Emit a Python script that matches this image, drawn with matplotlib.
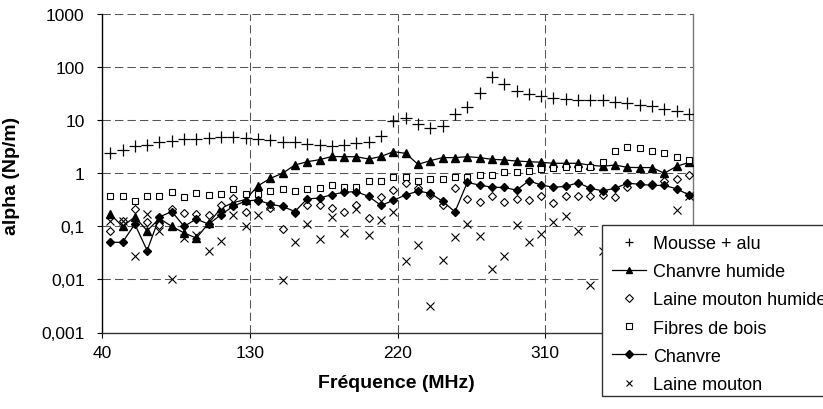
import matplotlib
matplotlib.use("Agg")
import matplotlib.pyplot as plt
from matplotlib.patches import Rectangle

plt.rcParams['font.family'] = ['Liberation Sans', 'DejaVu Sans']

# Frequencies (MHz); last point lies just beyond the axis end (line stubs)
freq = [45.0, 52.5, 60.0, 67.5, 75.0, 82.5, 90.0, 97.5, 105.0, 112.5,
        120.0, 127.5, 135.0, 142.5, 150.0, 157.5, 165.0, 172.5, 180.0, 187.5,
        195.0, 202.5, 210.0, 217.5, 225.0, 232.5, 240.0, 247.5, 255.0, 262.5,
        270.0, 277.5, 285.0, 292.5, 300.0, 307.5, 315.0, 322.5, 330.0, 337.5,
        345.0, 352.5, 360.0, 367.5, 375.0, 382.5, 390.0, 397.5, 405.0]

mousse_alu = [2.45, 2.8, 3.2, 3.45, 3.8, 4.0, 4.4, 4.4, 4.6, 4.8,
              4.9, 4.65, 4.5, 4.2, 3.95, 3.8, 3.5, 3.4, 3.3, 3.4,
              3.65, 3.95, 5.1, 9.6, 11.2, 8.3, 7.2, 7.8, 13.0, 18.0,
              32.0, 65.0, 48.0, 36.0, 31.0, 28.0, 26.5, 25.5, 24.5, 24.3,
              23.7, 22.0, 21.0, 19.2, 18.2, 16.5, 15.0, 13.3, 12.5]

chanvre_humide = [0.17, 0.10, 0.15, 0.083, 0.14, 0.10, 0.075, 0.06, 0.115, 0.22,
                  0.28, 0.32, 0.58, 0.80, 1.0, 1.43, 1.65, 1.8, 2.07, 2.05,
                  2.05, 1.85, 2.07, 2.55, 2.37, 1.47, 1.73, 1.97, 1.97, 2.05,
                  1.97, 1.83, 1.78, 1.70, 1.65, 1.61, 1.54, 1.54, 1.54, 1.42,
                  1.35, 1.43, 1.29, 1.28, 1.28, 1.0, 1.35, 1.6, 2.1]

laine_mouton_humide = [0.081, 0.125, 0.21, 0.12, 0.107, 0.21, 0.18, 0.17, 0.165, 0.255,
                       0.34, 0.19, 0.30, 0.22, 0.088, 0.18, 0.25, 0.25, 0.225, 0.186,
                       0.25, 0.145, 0.35, 0.49, 0.65, 0.53, 0.39, 0.25, 0.53, 0.33,
                       0.29, 0.37, 0.285, 0.33, 0.315, 0.376, 0.27, 0.376, 0.376, 0.365,
                       0.385, 0.355, 0.56, 0.62, 0.62, 0.71, 0.79, 0.92, 1.0]

fibres_bois = [0.365, 0.365, 0.30, 0.38, 0.365, 0.45, 0.35, 0.43, 0.385, 0.40,
               0.495, 0.40, 0.415, 0.47, 0.495, 0.47, 0.50, 0.52, 0.595, 0.54,
               0.54, 0.70, 0.70, 0.84, 0.84, 0.70, 0.775, 0.775, 0.835, 0.855,
               0.93, 0.93, 1.07, 1.07, 1.12, 1.2, 1.24, 1.3, 1.26, 1.3,
               1.6, 2.64, 3.16, 3.03, 2.63, 2.37, 2.05, 1.78, 1.6]

chanvre = [0.05, 0.05, 0.11, 0.035, 0.15, 0.19, 0.10, 0.137, 0.11, 0.166,
           0.24, 0.30, 0.313, 0.26, 0.237, 0.19, 0.33, 0.34, 0.395, 0.44,
           0.45, 0.365, 0.247, 0.31, 0.39, 0.46, 0.42, 0.295, 0.188, 0.67,
           0.60, 0.545, 0.54, 0.48, 0.72, 0.60, 0.545, 0.565, 0.665, 0.52,
           0.466, 0.52, 0.65, 0.62, 0.59, 0.59, 0.51, 0.39, 0.27]

laine_mouton = [0.124, 0.126, 0.028, 0.17, 0.08, 0.0102, 0.06, 0.069, 0.035, 0.052,
                0.163, 0.10, 0.163, 0.24, 0.0096, 0.05, 0.113, 0.058, 0.147, 0.075,
                0.215, 0.069, 0.129, 0.188, 0.022, 0.044, 0.0032, 0.023, 0.062, 0.11,
                0.065, 0.0157, 0.028, 0.104, 0.051, 0.071, 0.122, 0.156, 0.082, 0.0077,
                0.035, 0.05, 0.02, 0.06, 0.03, 0.08, 0.205, 0.37, 0.3]

series_names = ["Mousse + alu", "Chanvre humide", "Laine mouton humide",
                "Fibres de bois", "Chanvre", "Laine mouton"]

x_ticks = [40, 130, 220, 310, 400]
x_ticklabels = ["40", "130", "220", "310", ""]   # 400 is hidden under the legend
y_ticks = [0.001, 0.01, 0.1, 1, 10, 100, 1000]
y_ticklabels = ["0,001", "0,01", "0,1", "1", "10", "100", "1000"]

W, H = 823, 410
fig = plt.figure(figsize=(W / 100, H / 100), dpi=100)
L, R, T, B = 102, 693, 15, 333.5
ax = fig.add_axes([L / W, 1 - B / H, (R - L) / W, (B - T) / H])

styles = [
    dict(ls='none', marker='+', ms=8, mew=0.9, color='black'),
    dict(ls='-', lw=0.9, marker='^', ms=6, color='black'),
    dict(ls='none', marker='D', ms=4.5, mew=0.8, mfc='white', mec='black'),
    dict(ls='none', marker='s', ms=5, mew=0.8, mfc='white', mec='black'),
    dict(ls='-', lw=0.9, marker='D', ms=4.5, color='black'),
    dict(ls='none', marker='x', ms=5.5, mew=0.8, color='black'),
]
data = [mousse_alu, chanvre_humide, laine_mouton_humide, fibres_bois, chanvre, laine_mouton]

handles = []
for name, vals, st in zip(series_names, data, styles):
    h, = ax.plot(freq, vals, label=name, zorder=3, **st)
    handles.append(h)

ax.set_yscale('log')
ax.set_xlim(40, 400)
ax.set_ylim(0.001, 1000)
ax.set_yticks(y_ticks)
ax.set_yticklabels(y_ticklabels)
ax.yaxis.set_minor_locator(matplotlib.ticker.NullLocator())
ax.set_xticks(x_ticks)
ax.set_xticklabels(x_ticklabels)

ax.grid(True, which='major', color='#555555', linestyle=(0, (8, 4)), linewidth=0.75, zorder=1)
ax.set_axisbelow(True)

ax.spines['top'].set_visible(False)
ax.spines['left'].set_color('black')
ax.spines['left'].set_linewidth(1.0)
ax.spines['bottom'].set_color('#333333')
ax.spines['bottom'].set_linewidth(1.0)
ax.spines['right'].set_color('#777777')
ax.spines['right'].set_linewidth(1.0)

ax.tick_params(axis='both', which='major', direction='out', length=3.5, width=0.8,
               labelsize=12.5, color='black')
ax.tick_params(axis='y', pad=9)
ax.tick_params(axis='x', pad=5.5)

fig.text(12 / W, 1 - 176 / H, 'alpha (Np/m)', rotation=90, ha='center', va='center',
         fontsize=14, fontweight='bold')
fig.text(396 / W, 1 - 384 / H, 'Fréquence (MHz)', ha='center', va='center',
         fontsize=14, fontweight='bold')

# Legend box (white, overlapping the plot and running off the right edge)
box_l, box_t, box_b = 602, 226, 397
legend_box = Rectangle((box_l / W, 1 - box_b / H), (835 - box_l) / W, (box_b - box_t) / H,
                       transform=fig.transFigure, facecolor='white',
                       edgecolor='#333333', linewidth=1.0, zorder=4)
fig.add_artist(legend_box)

leg = fig.legend(handles=handles, labels=series_names, loc='upper left',
                 bbox_to_anchor=(box_l / W, 1 - box_t / H), borderaxespad=0,
                 fontsize=13, frameon=False, handlelength=1.9,
                 handletextpad=0.4, labelspacing=0.62, borderpad=0.55,
                 markerscale=0.8)
leg.set_zorder(5)

fig.savefig('out.png', dpi=100)
